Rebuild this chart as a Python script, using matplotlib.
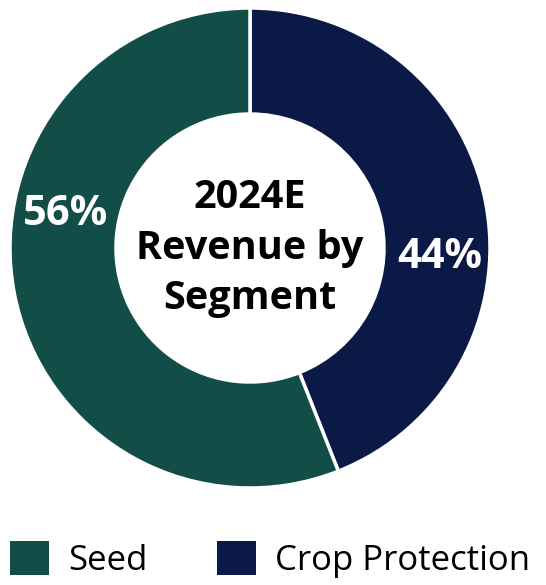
import matplotlib
matplotlib.use("Agg")
import matplotlib.pyplot as plt
from matplotlib.patches import Patch

plt.rcParams['font.family'] = ['Open Sans', 'DejaVu Sans']

categories = ["Crop Protection", "Seed"]
shares = [44, 56]
colors = ["#0B1946", "#124D47"]
center_title = "2024E\nRevenue by\nSegment"

fig = plt.figure(figsize=(5.46, 5.85), dpi=100)
ax = fig.add_axes([10/546, 97/585, 480/546, 480/585])
wedges, texts, autotexts = ax.pie(
    shares, colors=colors, startangle=90, counterclock=False,
    radius=1.0, autopct=lambda p: f"{p:.0f}%", pctdistance=0.78,
    wedgeprops=dict(width=1 - 134/240, edgecolor="white", linewidth=2.5),
    textprops=dict(color="white", fontsize=30, fontweight="bold"))
# label placement as in reference
autotexts[0].set_position((0.79, -0.04))
autotexts[1].set_position((-0.77, 0.14))
for t in autotexts:
    t.set_ha("center"); t.set_va("center")

ax.text(0, 0.0, center_title, ha="center", va="center", fontsize=28.5,
        fontweight="bold", color="black", linespacing=1.4)
ax.set_xlim(-1, 1); ax.set_ylim(-1, 1)
ax.set_aspect("equal")
ax.axis("off")

handles = [Patch(facecolor=colors[1], label=categories[1]),
           Patch(facecolor=colors[0], label=categories[0])]
fig.legend(handles=handles, loc="lower left", bbox_to_anchor=(0.0, -0.005),
           ncol=2, frameon=False, fontsize=25, handlelength=1.12,
           handleheight=1.12, handletextpad=0.55, columnspacing=2.0,
           borderaxespad=0.0, borderpad=0.3)

fig.savefig("out.png", dpi=100, facecolor="white")
